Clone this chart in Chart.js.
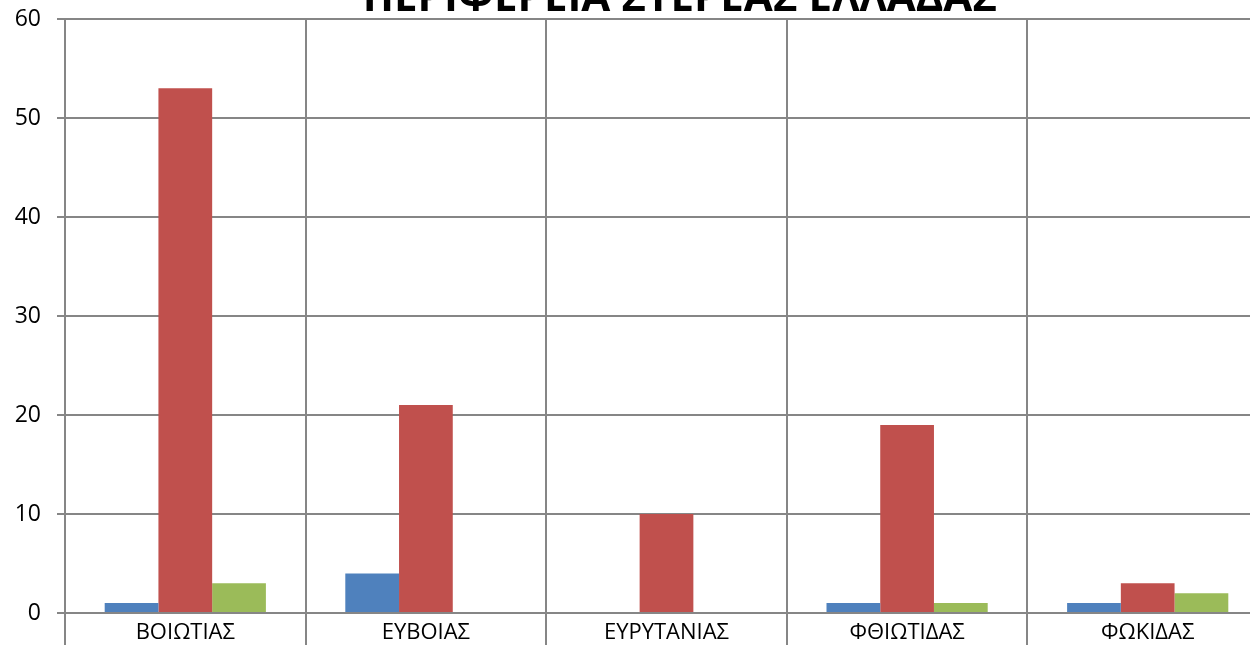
<!DOCTYPE html>
<html>
<head>
<meta charset="utf-8">
<script src="https://cdn.jsdelivr.net/npm/chart.js@4.4.1/dist/chart.umd.min.js"></script>
<style>
  html, body { margin: 0; padding: 0; background: #fff; overflow: hidden; }
  #wrap { width: 1280px; height: 645px; position: relative; }
</style>
</head>
<body>
<div id="wrap"><canvas id="chart"></canvas></div>
<script>
// Στοιχεία ανά νομό (Περιφέρεια Στερεάς Ελλάδας)
const categories = ['ΒΟΙΩΤΙΑΣ', 'ΕΥΒΟΙΑΣ', 'ΕΥΡΥΤΑΝΙΑΣ', 'ΦΘΙΩΤΙΔΑΣ', 'ΦΩΚΙΔΑΣ'];
const series1 = [1, 4, 0, 1, 1];
const series2 = [53, 21, 10, 19, 3];
const series3 = [3, 0, 0, 1, 2];
const yTicks = [0, 10, 20, 30, 40, 50, 60];
const chartTitle = 'ΠΕΡΙΦΕΡΕΙΑ ΣΤΕΡΕΑΣ ΕΛΛΑΔΑΣ';

const gridColor = '#868686';

// τίτλος μισοκομμένος στην κορυφή, όπως στο πρωτότυπο
const titlePlugin = {
  id: 'cutTitle',
  afterDraw(chart) {
    const { ctx } = chart;
    ctx.save();
    ctx.font = 'bold 42px "Open Sans", sans-serif';
    ctx.fillStyle = '#000';
    ctx.textAlign = 'center';
    ctx.textBaseline = 'alphabetic';
    ctx.fillText(chartTitle, 680, 11);
    ctx.restore();
  }
};

new Chart(document.getElementById('chart'), {
  type: 'bar',
  data: {
    labels: categories,
    datasets: [
      { label: 'Σειρά1', data: series1, backgroundColor: '#4F81BD' },
      { label: 'Σειρά2', data: series2, backgroundColor: '#C0504D' },
      { label: 'Σειρά3', data: series3, backgroundColor: '#9BBB59' },
    ],
  },
  options: {
    responsive: true,
    maintainAspectRatio: false,
    animation: false,
    layout: { padding: { top: 19, right: 12, left: 0, bottom: 0 } },
    datasets: { bar: { categoryPercentage: 0.67, barPercentage: 1.0 } },
    plugins: { legend: { display: false }, title: { display: false }, tooltip: { enabled: false } },
    scales: {
      x: {
        grid: { color: gridColor, lineWidth: 2, tickLength: 32, offset: true },
        border: { color: gridColor, width: 2 },
        ticks: { color: '#000', font: { family: 'Open Sans', size: 22 }, padding: -25, maxRotation: 0 },
        afterFit(s) { s.height = 32; s.paddingLeft = 0; s.paddingRight = 0; },
      },
      y: {
        min: 0, max: 60,
        afterBuildTicks(s) { s.ticks = yTicks.map(v => ({ value: v })); },
        grid: { color: gridColor, lineWidth: 2, tickLength: 8 },
        border: { color: gridColor, width: 2 },
        ticks: { color: '#000', font: { family: 'Open Sans', size: 23 }, padding: 16 },
        afterFit(s) { s.width = 65; s.paddingTop = 0; s.paddingBottom = 0; },
      },
    },
  },
  plugins: [titlePlugin],
});
</script>
</body>
</html>
